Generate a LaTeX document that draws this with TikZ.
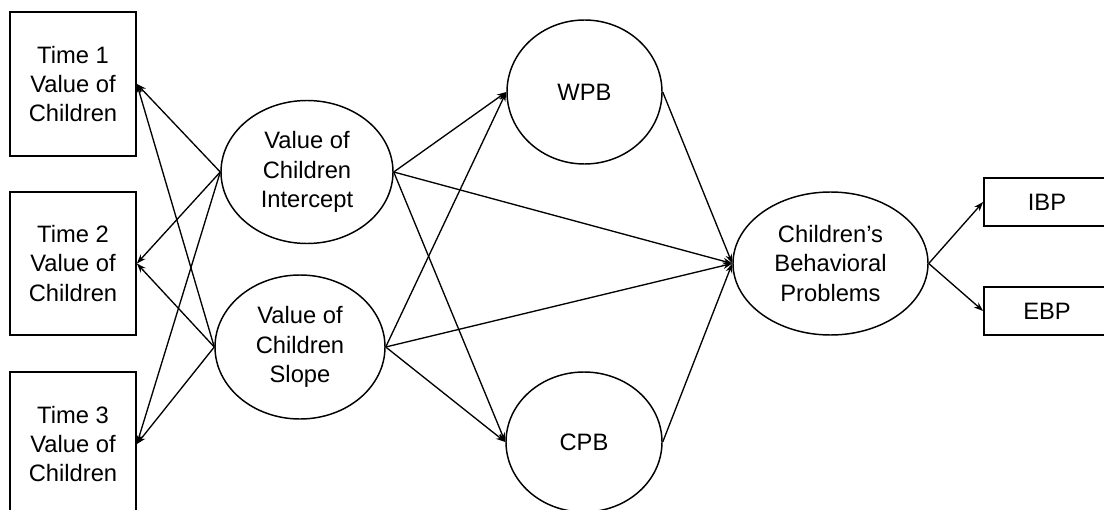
\documentclass[tikz,border=0pt]{standalone}
\usepackage{fontspec}
\setmainfont{Liberation Sans}
\usetikzlibrary{shapes.geometric,arrows.meta}
\begin{document}
\begin{tikzpicture}[x=0.75pt,y=-0.75pt,
  every node/.style={font=\fontsize{17.8}{22}\selectfont, align=center, inner sep=0pt},
  obs/.style={draw, rectangle, line width=1.3pt, minimum width=94.5pt},
  lat/.style={draw, ellipse, line width=1.1pt},
  path/.style={line width=1pt, -{Stealth[length=7pt,width=5pt]}}]
\useasboundingbox (0,0) rectangle (1104,510);
\clip (0,0) rectangle (1104,510);
\node[obs, minimum height=108pt] (b1) at (73,84) {Time 1\\Value of\\Children};
\node[obs, minimum height=107.25pt] (b2) at (73,263.5) {Time 2\\Value of\\Children};
\node[obs, minimum height=108pt] (b3) at (73,444) {Time 3\\Value of\\Children};
\node[lat, minimum width=129pt, minimum height=107.25pt] (int) at (307,172) {Value of\\Children\\Intercept};
\node[lat, minimum width=127.5pt, minimum height=108pt] (slo) at (300,347) {Value of\\Children\\Slope};
\node[lat, minimum width=116.25pt, minimum height=108pt] (wpb) at (584.5,92) {WPB};
\node[lat, minimum width=117pt, minimum height=105pt] (cpb) at (584,442) {CPB};
\node[lat, minimum width=146.25pt, minimum height=107.25pt] (cbp) at (830.5,263.5) {Children's\\Behavioral\\Problems};
\node[obs, minimum height=36pt] (ibp) at (1047,202) {IBP};
\node[obs, minimum height=36pt] (ebp) at (1047,311) {EBP};
\foreach \s in {int,slo}{
  \foreach \t in {b1,b2,b3}{
    \draw[path] (\s.west) -- (\t.east);
  }
  \foreach \t in {wpb,cpb,cbp}{
    \draw[path] (\s.east) -- (\t.west);
  }
}
\draw[path] (wpb.east) -- (cbp.west);
\draw[path] (cpb.east) -- (cbp.west);
\draw[path] (cbp.east) -- (ibp.west);
\draw[path] (cbp.east) -- (ebp.west);
\end{tikzpicture}
\end{document}
